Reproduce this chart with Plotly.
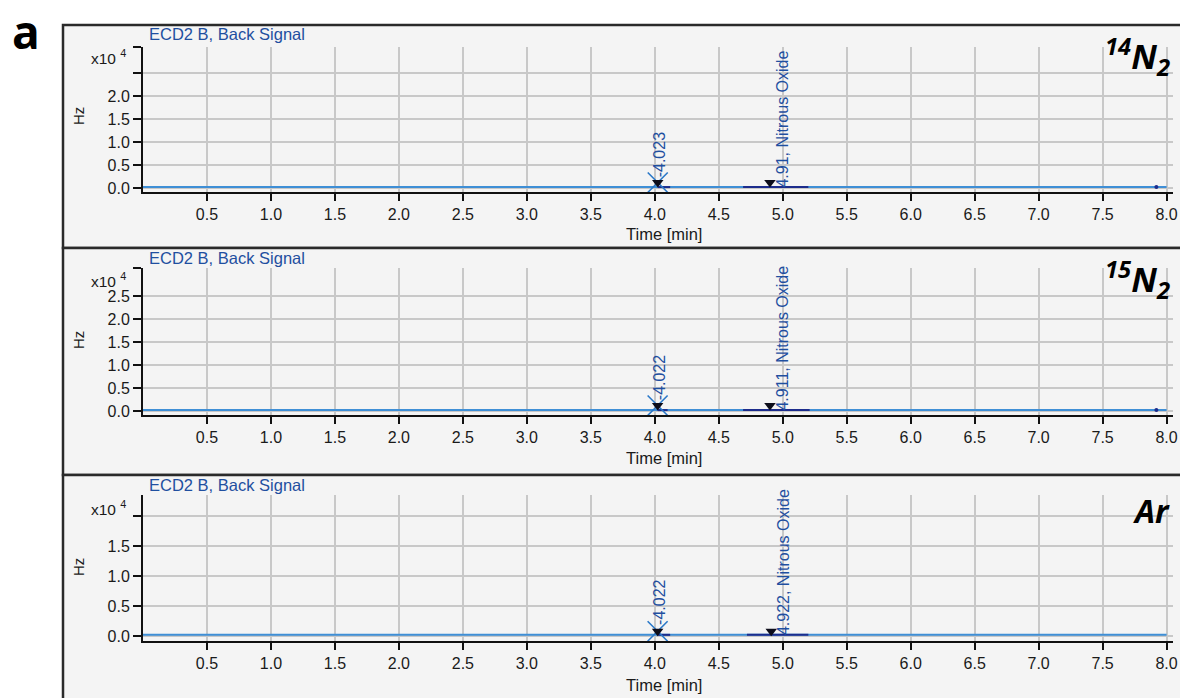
import plotly.graph_objects as go

# ---------------- data (values in x10^4 Hz, time in min) ----------------
panel_names = ["<i><b><sup>14</sup>N<sub>2</sub></b></i>", "<i><b><sup>15</sup>N<sub>2</sub></b></i>", "<i><b>Ar</b></i>"]
signal_title = "ECD2 B, Back Signal"
time_start = 0.0
time_end = 8.0
baseline_hz = [0.02, 0.02, 0.02]
peak1_rt = [4.023, 4.022, 4.022]
peak1_label = ["-4.023", "-4.022", "-4.022"]
peak1_int_end = [4.12, 4.10, 4.12]
peak2_rt = [4.90, 4.90, 4.91]
peak2_label = ["4.91, Nitrous Oxide", "4.911, Nitrous Oxide", "4.922, Nitrous Oxide"]
peak2_int_start = [4.69, 4.69, 4.72]
peak2_int_end = [5.20, 5.21, 5.20]
peak_mark_hz = [0.12, 0.12, 0.08]
end_dot_t = [7.92, 7.92, None]
x_tickvals = [0.5, 1.0, 1.5, 2.0, 2.5, 3.0, 3.5, 4.0, 4.5, 5.0, 5.5, 6.0, 6.5, 7.0, 7.5, 8.0]
x_ticktext = ["0.5", "1.0", "1.5", "2.0", "2.5", "3.0", "3.5", "4.0", "4.5", "5.0", "5.5", "6.0", "6.5", "7.0", "7.5", "8.0"]
y_tickvals = [
    [0.0, 0.5, 1.0, 1.5, 2.0, 2.5, 3.06],
    [0.0, 0.5, 1.0, 1.5, 2.0, 2.5, 3.10],
    [0.0, 0.5, 1.0, 1.5, 2.0],
]
y_ticktext = [
    ["0.0", "0.5", "1.0", "1.5", "2.0", "", ""],
    ["0.0", "0.5", "1.0", "1.5", "2.0", "2.5", ""],
    ["0.0", "0.5", "1.0", "1.5", ""],
]
y_ranges = [(-0.087, 3.065), (-0.087, 3.11), (-0.083, 2.35)]

# ---------------- layout geometry (pixels) ----------------
W, H = 1180, 698
def px(x):
    return x / W
def py(y):
    return 1 - y / H

plot_left, plot_right = 143, 1173
plot_top = [47, 268, 495]
plot_bot = [192, 415, 641]
panel_top = [25, 248, 475]
panel_bot = [248, 475, 700]
x10_y = [57, 280, 508]
title_y = [34, 258, 485]
name_y = [56, 279, 510]
hz_y = [116, 340, 567]
time_y = [234, 458, 685]

TXT = "#1a1a1a"
BLUE_TXT = "#1f4fa0"
LINE_BLUE = "#3f8fd6"
DARK_BLUE = "#1c2c8c"
GRID = "#c8c8c8"
FONT = "Liberation Sans"
FS = 16

fig = go.Figure()
layout = dict(
    width=W, height=H,
    margin=dict(l=0, r=0, t=0, b=0, autoexpand=False),
    paper_bgcolor="white",
    plot_bgcolor="rgba(0,0,0,0)",
    showlegend=False,
    font=dict(family=FONT, size=FS, color=TXT),
)
shapes = []
annotations = []

for i in range(3):
    xa = "x" if i == 0 else f"x{i+1}"
    ya = "y" if i == 0 else f"y{i+1}"
    xkey = "xaxis" if i == 0 else f"xaxis{i+1}"
    ykey = "yaxis" if i == 0 else f"yaxis{i+1}"
    b = baseline_hz[i]

    # baseline signal
    fig.add_trace(go.Scatter(x=[time_start, time_end], y=[b, b], mode="lines",
                             line=dict(color=LINE_BLUE, width=2), xaxis=xa, yaxis=ya,
                             hoverinfo="skip"))
    # integration baselines
    fig.add_trace(go.Scatter(x=[peak1_rt[i], peak1_int_end[i]], y=[b, b], mode="lines",
                             line=dict(color=DARK_BLUE, width=2), xaxis=xa, yaxis=ya))
    fig.add_trace(go.Scatter(x=[peak2_int_start[i], peak2_int_end[i]], y=[b, b], mode="lines",
                             line=dict(color=DARK_BLUE, width=2), xaxis=xa, yaxis=ya))
    # peak start markers
    fig.add_trace(go.Scatter(x=[peak1_rt[i]], y=[peak_mark_hz[i]], mode="markers",
                             marker=dict(symbol="x-thin", size=20, color="#2a78c8",
                                         line=dict(color="#2a78c8", width=1.6)),
                             xaxis=xa, yaxis=ya))
    fig.add_trace(go.Scatter(x=[peak1_rt[i], peak2_rt[i]], y=[peak_mark_hz[i], peak_mark_hz[i]],
                             mode="markers",
                             marker=dict(symbol="triangle-down", size=10, color="#0d0d1a"),
                             xaxis=xa, yaxis=ya))
    if end_dot_t[i] is not None:
        fig.add_trace(go.Scatter(x=[end_dot_t[i]], y=[b], mode="markers",
                                 marker=dict(symbol="circle", size=4, color=DARK_BLUE),
                                 xaxis=xa, yaxis=ya))

    layout[xkey] = dict(
        domain=[px(plot_left), px(plot_right)], anchor=ya, range=[0, 8.05],
        tickvals=x_tickvals, ticktext=x_ticktext, ticks="outside", ticklen=7,
        tickwidth=1.5, tickcolor="#111", showline=True, linecolor="#111", linewidth=2,
        showgrid=True, gridcolor=GRID, gridwidth=1.5, zeroline=False, automargin=False,
        tickfont=dict(family=FONT, size=FS, color=TXT),
    )
    layout[ykey] = dict(
        domain=[py(plot_bot[i]), py(plot_top[i])], anchor=xa, range=list(y_ranges[i]),
        tickvals=y_tickvals[i], ticktext=y_ticktext[i], ticks="outside", ticklen=8,
        tickwidth=1.5, tickcolor="#111", showline=True, linecolor="#111", linewidth=2,
        showgrid=True, gridcolor=GRID, gridwidth=1.5, zeroline=False, automargin=False,
        tickfont=dict(family=FONT, size=FS, color=TXT),
    )

    # panel frame
    shapes.append(dict(type="rect", xref="paper", yref="paper", layer="below",
                       x0=px(63), x1=px(1190), y0=py(panel_bot[i]), y1=py(panel_top[i]),
                       fillcolor="#f4f4f4", line=dict(color="#2a2a2a", width=2.5)))

    # peak labels
    annotations.append(dict(x=peak1_rt[i], y=b, xref=xa, yref=ya, text=peak1_label[i],
                            textangle=-90, showarrow=False, xanchor="center", yanchor="bottom",
                            yshift=8, xshift=2, font=dict(family=FONT, size=FS, color=BLUE_TXT)))
    annotations.append(dict(x=peak2_rt[i], y=b, xref=xa, yref=ya, text=peak2_label[i],
                            textangle=-90, showarrow=False, xanchor="center", yanchor="bottom",
                            yshift=-2, xshift=13, font=dict(family=FONT, size=FS, color=BLUE_TXT)))
    # texts
    annotations.append(dict(x=px(147), y=py(title_y[i]), xref="paper", yref="paper",
                            text=signal_title, showarrow=False, xanchor="left", yanchor="middle",
                            font=dict(family=FONT, size=16.5, color=BLUE_TXT)))
    annotations.append(dict(x=px(128), y=py(x10_y[i]), xref="paper", yref="paper",
                            text="x10 <sup>4</sup>", showarrow=False, xanchor="right", yanchor="middle",
                            font=dict(family=FONT, size=15.5, color=TXT)))
    annotations.append(dict(x=px(78), y=py(hz_y[i]), xref="paper", yref="paper",
                            text="Hz", textangle=-90, showarrow=False, xanchor="center", yanchor="middle",
                            font=dict(family=FONT, size=15, color=TXT)))
    annotations.append(dict(x=px(664), y=py(time_y[i]), xref="paper", yref="paper",
                            text="Time [min]", showarrow=False, xanchor="center", yanchor="middle",
                            font=dict(family=FONT, size=16.5, color=TXT)))
    annotations.append(dict(x=px(1172), y=py(name_y[i]), xref="paper", yref="paper",
                            text=panel_names[i], showarrow=False, xanchor="right", yanchor="middle",
                            font=dict(family="Open Sans", size=34 if i < 2 else 32, color="#000")))

annotations.append(dict(x=px(10), y=py(31), xref="paper", yref="paper", text="<b>a</b>",
                        showarrow=False, xanchor="left", yanchor="middle",
                        font=dict(family="Open Sans", size=46, color="#000")))

layout["shapes"] = shapes
layout["annotations"] = annotations
fig.update_layout(**layout)
fig.write_html("out.html")
